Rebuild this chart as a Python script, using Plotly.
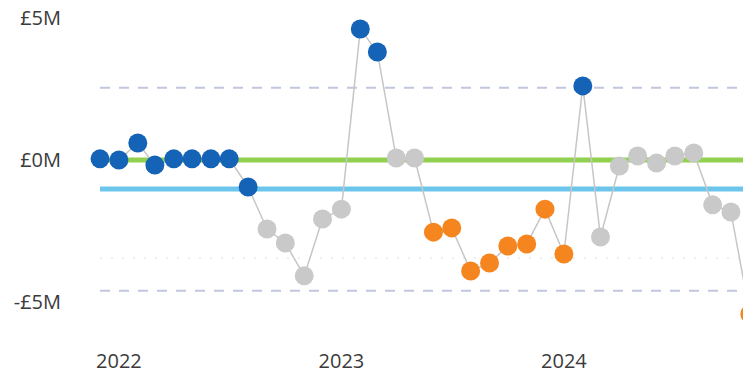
import pandas as pd
import plotly.graph_objects as go

# Monthly net position (£M), Dec 2021 – Nov 2024
months = pd.date_range("2021-12-01", periods=36, freq="MS")
values = [
    0.04, 0.00, 0.60, -0.18, 0.04, 0.04, 0.04, 0.04, -0.95, -2.43,
    -2.92, -4.08, -2.08, -1.73, 4.61, 3.80, 0.07, 0.07, -2.54, -2.39,
    -3.91, -3.63, -3.03, -2.96, -1.73, -3.31, 2.61, -2.71, -0.21, 0.14,
    -0.11, 0.14, 0.25, -1.58, -1.83, -5.42,
]
# SPC signal per month: "high" special cause, "low" special cause, "common"
signals = [
    "high", "high", "high", "high", "high", "high", "high", "high", "high", "common",
    "common", "common", "common", "common", "high", "high", "common", "common", "low", "low",
    "low", "low", "low", "low", "low", "low", "high", "common", "common", "common",
    "common", "common", "common", "common", "common", "low",
]

target = 0.0
mean_line = -1.02
upper_limit = 2.54
lower_limit = -4.60
lower_two_sigma = -3.45

year_ticks = ["2022-01-01", "2023-01-01", "2024-01-01"]
year_labels = ["2022", "2023", "2024"]
y_ticks = [-5, 0, 5]
y_labels = ["-£5M", "£0M", "£5M"]

signal_colors = {"high": "#1563b6", "low": "#f5861f", "common": "#c9c9c9"}

W, H = 743, 378
L, B = 66, 40
px_per_day = 222.5 / 365
first_px = 100
x_start = months[0] - pd.Timedelta(days=(first_px - L) / px_per_day)
x_end = months[0] + pd.Timedelta(days=(W - first_px) / px_per_day)
line_x = [months[0], months[-1] + pd.Timedelta(days=60)]

px_per_unit = 28.4
zero_px = 160
y_max = zero_px / px_per_unit
y_min = -((H - B) - zero_px) / px_per_unit

fig = go.Figure()


def hline(y, color, width, dash="solid"):
    fig.add_trace(go.Scatter(
        x=line_x, y=[y, y], mode="lines",
        line=dict(color=color, width=width, dash=dash),
        hoverinfo="skip", showlegend=False,
    ))


hline(lower_two_sigma, "#eeeeee", 2, "2px,9px")
hline(upper_limit, "#c1c7de", 2, "10px,9px")
hline(lower_limit, "#c1c7de", 2, "10px,9px")
hline(target, "#92d050", 5)
hline(mean_line, "#6cc6ec", 5)

fig.add_trace(go.Scatter(
    x=months, y=values, mode="lines",
    line=dict(color="#c6c6c6", width=1.5),
    hoverinfo="skip", showlegend=False,
))
# clipped at the plot edge so the final month shows as a partial marker
fig.add_trace(go.Scatter(
    x=months, y=values, mode="markers",
    marker=dict(size=19, color=[signal_colors[s] for s in signals], line=dict(width=0)),
    showlegend=False, cliponaxis=True,
))

font = dict(family="Segoe UI, Open Sans, sans-serif", size=20, color="#3b3b3b")
fig.update_layout(
    width=W, height=H,
    margin=dict(l=L, r=0, t=0, b=B),
    paper_bgcolor="white", plot_bgcolor="white",
    font=font,
    xaxis=dict(
        type="date", range=[x_start, x_end],
        tickvals=year_ticks, ticktext=year_labels,
        showgrid=False, zeroline=False, showline=False, ticks="",
        tickfont=font, ticklabelstandoff=9,
    ),
    yaxis=dict(
        range=[y_min, y_max],
        tickvals=y_ticks, ticktext=y_labels,
        showgrid=False, zeroline=False, showline=False, ticks="",
        tickfont=font, ticklabelstandoff=4,
    ),
)

fig.write_html("out.html")
